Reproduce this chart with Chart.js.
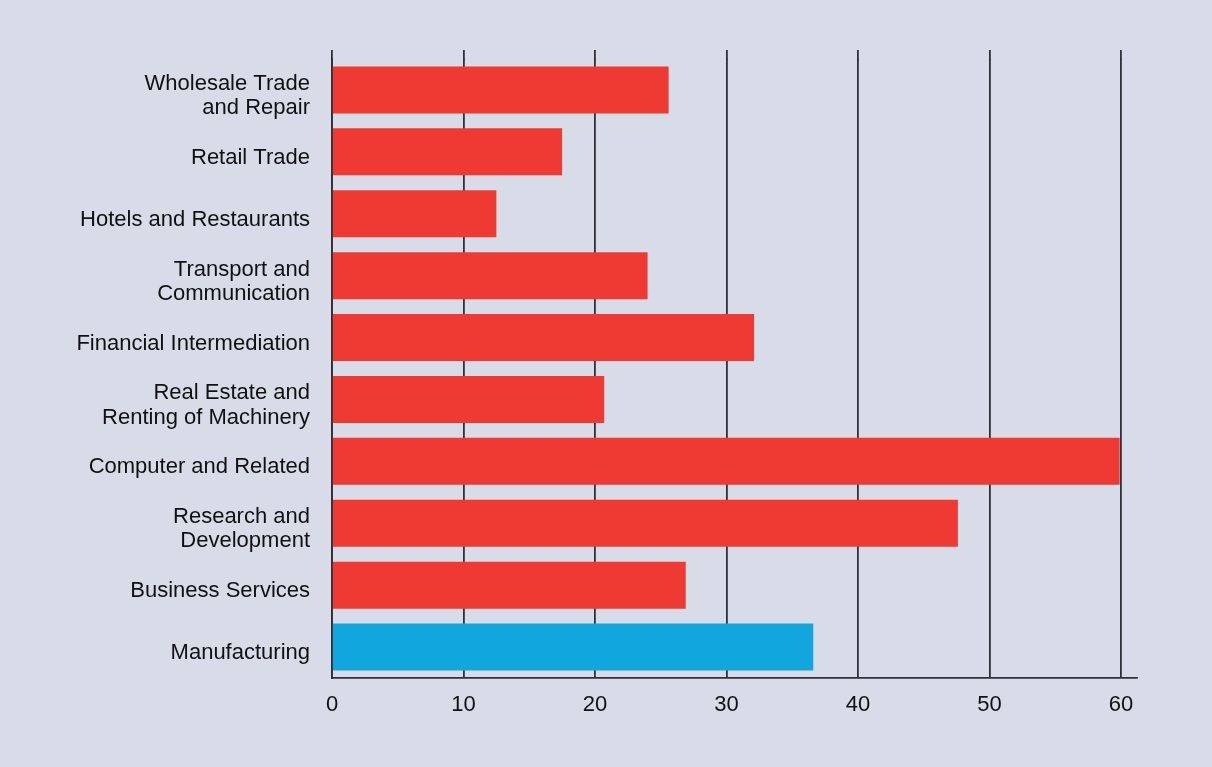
<!DOCTYPE html>
<html>
<head>
<meta charset="utf-8">
<script src="https://cdn.jsdelivr.net/npm/chart.js@4"></script>
<style>
  html, body { margin: 0; padding: 0; background: #d8dce8; }
  #wrap { width: 1212px; height: 767px; position: relative; }
</style>
</head>
<body>
<div id="wrap"><canvas id="chart"></canvas></div>
<script>
// --- data ---
const categories = [
    ['Wholesale Trade', 'and Repair'],
    ['Retail Trade'],
    ['Hotels and Restaurants'],
    ['Transport and', 'Communication'],
    ['Financial Intermediation'],
    ['Real Estate and', 'Renting of Machinery'],
    ['Computer and Related'],
    ['Research and', 'Development'],
    ['Business Services'],
    ['Manufacturing']
];
const values = [25.6, 17.5, 12.5, 24.0, 32.1, 20.7, 59.9, 47.6, 26.9, 36.6];
const tickValues = [0, 10, 20, 30, 40, 50, 60];
const highlighted = 'Manufacturing';

// --- styles ---
const RED = '#ef3933';
const BLUE = '#12a6df';
const LINE = '#303036';
const TEXT = '#111111';
const FONT = "'Liberation Sans', Arial, sans-serif";
const LW = 1.8;

// same pixel snapping chart.js uses for its gridlines
function align(chart, px, w) {
    const dpr = chart.currentDevicePixelRatio;
    const half = w / 2;
    return Math.round((px - half) * dpr) / dpr + half;
}

// gridlines in the reference stick out a little above the bars
const gridTop = {
    id: 'gridTop',
    beforeDatasetsDraw(chart) {
        const { ctx, chartArea, scales } = chart;
        ctx.save();
        ctx.strokeStyle = LINE;
        ctx.lineWidth = LW;
        tickValues.forEach(v => {
            const x = align(chart, scales.x.getPixelForValue(v), LW);
            ctx.beginPath();
            ctx.moveTo(x, chartArea.top - 9);
            ctx.lineTo(x, chartArea.top + 1);
            ctx.stroke();
        });
        ctx.restore();
    }
};

const ctx = document.getElementById('chart').getContext('2d');
new Chart(ctx, {
    type: 'bar',
    data: {
        labels: categories,
        datasets: [{
            data: values,
            backgroundColor: c => (categories[c.dataIndex] || [])[0] === highlighted ? BLUE : RED,
            borderWidth: 0,
            barPercentage: 0.759,
            categoryPercentage: 1
        }]
    },
    options: {
        indexAxis: 'y',
        responsive: true,
        maintainAspectRatio: false,
        animation: false,
        layout: { padding: { top: 59, right: 75, left: 0, bottom: 0 } },
        plugins: { legend: { display: false }, tooltip: { enabled: false } },
        scales: {
            x: {
                min: 0,
                max: 61.22,
                afterBuildTicks: s => { s.ticks = tickValues.map(v => ({ value: v })); },
                afterFit: s => { s.height = 89; },
                grid: { color: LINE, lineWidth: LW, drawTicks: false },
                border: { display: true, color: LINE, width: LW },
                ticks: {
                    color: TEXT,
                    padding: 14,
                    maxRotation: 0,
                    font: { family: FONT, size: 22 }
                }
            },
            y: {
                afterFit: s => { s.width = 332; },
                grid: { display: false, drawTicks: false },
                border: { display: true, color: LINE, width: LW },
                ticks: {
                    color: TEXT,
                    padding: 22,
                    labelOffset: 6,
                    font: { family: FONT, size: 22, lineHeight: 1.1 }
                }
            }
        }
    },
    plugins: [gridTop]
});
</script>
</body>
</html>
